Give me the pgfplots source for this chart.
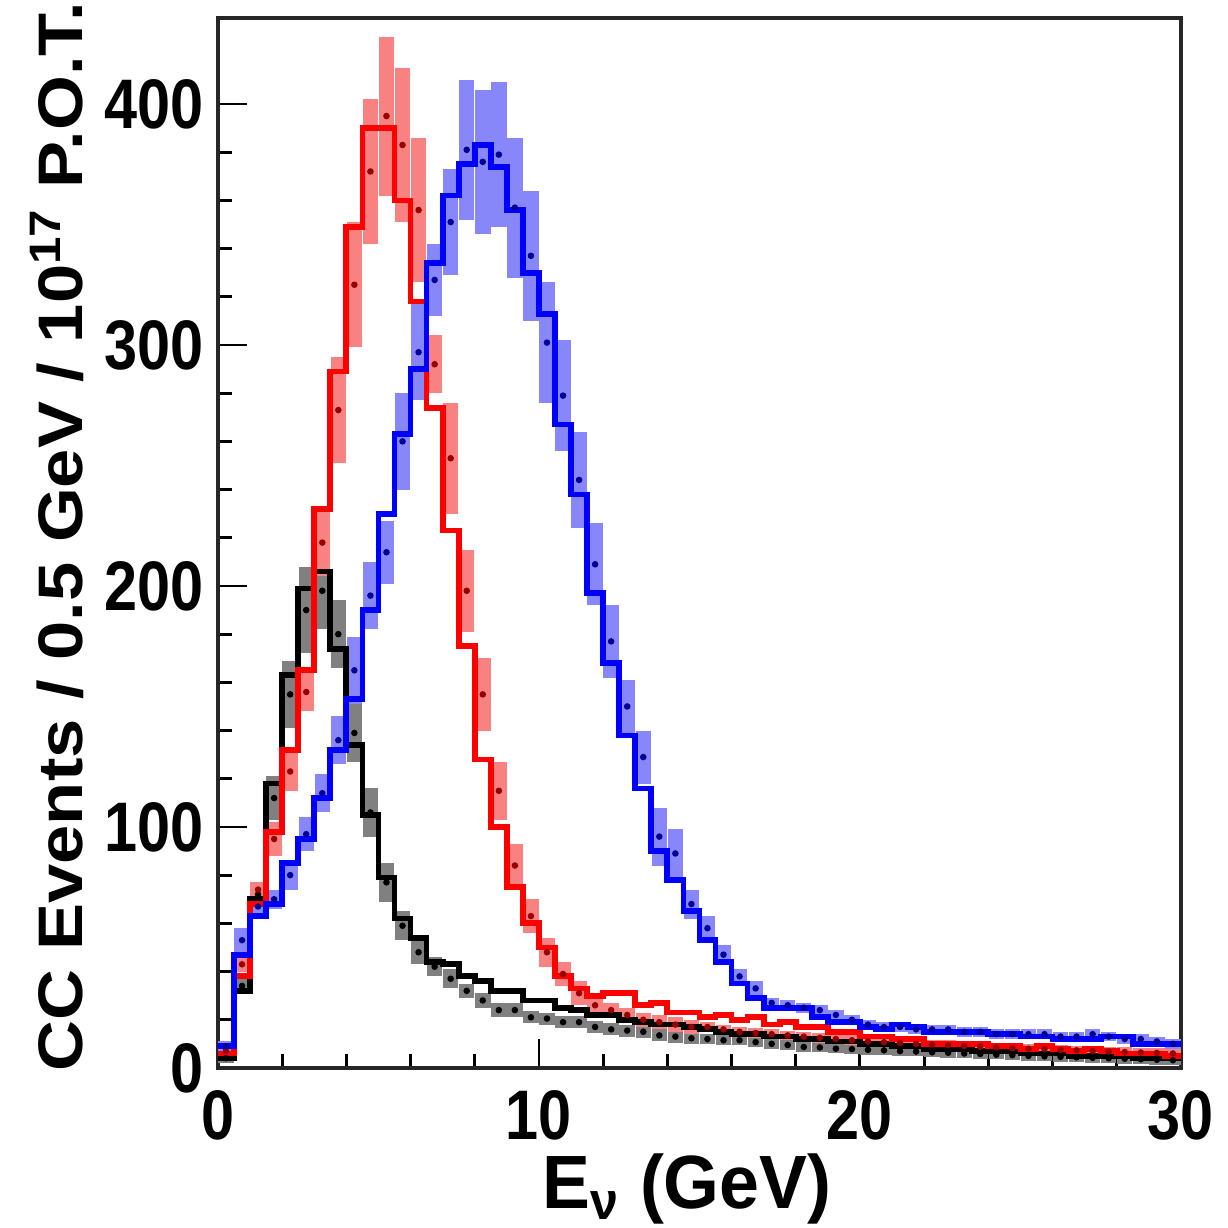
\documentclass[border=0pt]{standalone}
\usepackage{fontspec}
\usepackage{pgfplots}
\usepackage{pgfplotstable}
\pgfplotsset{compat=1.18}
\newfontfamily\rf{Liberation Sans}[FakeStretch=0.847]
\newfontfamily\rfx{Liberation Sans}[FakeStretch=0.95]
\newfontfamily\rfy{Liberation Sans}[FakeStretch=1.12]
\definecolor{bandblue}{RGB}{135,135,250}
\definecolor{bandred}{RGB}{248,130,130}
\definecolor{bandgray}{RGB}{128,128,128}

\pgfplotstableread{
xl xc k r b kc ke rc re bc be
0 0.25 4 6 9 4 2 7 2 9 2
0.5 0.75 32 38 47 34 3 43 3 53 5
1 1.25 70 68 63 72 4 74 3 67 4
1.5 1.75 118 98 68 112 9 95 7 70 4
2 2.25 163 132 85 155 14 123 8 80 6
2.5 2.75 199 165 95 190 18 156 8 97 7
3 3.25 206 232 112 198 16 218 14 114 8
3.5 3.75 174 289 132 180 14 273 22 136 10
4 4.25 134 349 153 139 12 325 26 165 14
4.5 4.75 105 390 190 106 10 372 30 196 14
5 5.25 79 390 230 77 8 395 33 214 13
5.5 5.75 62 360 263 59 6 383 32 260 20
6 6.25 54 318 290 48 5 356 30 297 20
6.5 6.75 44 274 334 42 4 292 12 327 15
7 7.25 43 223 362 37 4 253 23 351 22
7.5 7.75 38 175 375 32 3 198 17 381 29
8 8.25 36 128 383 28 3 155 15 376 30
8.5 8.75 32 100 374 24 3 115 12 379 30
9 9.25 32 75 356 24 3 84 9 357 29
9.5 9.75 28 60 330 21 2.5 63 7 337 27
10 10.25 28 50 313 20.5 2.5 48 6 301 25
10.5 10.75 25 38 267 19 2.5 39 5 279 23
11 11.25 24 33 238 19 2.5 31 5 244 20
11.5 11.75 22 30 197 17 2.5 26 4 209 17
12 12.25 22 31 168 16 2.5 24 3 177 15
12.5 12.75 20 31 138 15.5 2.5 22 3 150 11
13 13.25 19 26 116 15 2.5 20 3 129 11
13.5 13.75 18 27 90 13.5 2.5 19 3 96 12
14 14.25 18 23 78 13 2.5 18 3 89 10
14.5 14.75 17 23 65 12.3 2.5 17 3 68 6
15 15.25 16 21 53 12 2 17 2 58 5
15.5 15.75 15 22 44 11.5 2 16 2 47 4
16 16.25 14 20 35 11.5 2 15 2 38 3
16.5 16.75 14 21 29 10.7 2 14.5 2 33 3
17 17.25 13 18 25 10 2 14 2 27 2
17.5 17.75 13 19 25 9.5 2 13.5 2 26 2
18 18.25 12 17 25 8.7 2 13 2 25 2
18.5 18.75 12 17 21 8.5 2 12.5 2 24 2
19 19.25 11 15 19 8 2 12 2 22 2
19.5 19.75 11 15 19 7.8 2 11.5 2 20 2
20 20.25 10 13 17 7.5 2 11 2 18 2
20.5 20.75 10 13 16 7.3 2 10.7 2 17 2
21 21.25 9 12 18 7 2 10.4 2 17 2
21.5 21.75 9 12 17 6.8 2 10 2 16 2
22 22.25 8 10 15 6.5 2 9.7 2 16 2
22.5 22.75 8 10 15 6.3 2 9.4 2 16 2
23 23.25 8 10 15 6 2 9.1 2 15 2
23.5 23.75 7 10 15 5.8 2 8.8 2 15 2
24 24.25 7 9 14 5.5 2 8.5 2 14 2
24.5 24.75 7 9 14 5.3 2 8.2 2 14 2
25 25.25 6 8 13 5 2 8 2 14 2
25.5 25.75 6 9 13 4.8 2 7.8 2 14 2
26 26.25 6 8 12 4.6 2 7.5 2 13 2
26.5 26.75 5 7 12 4.4 2 7.3 2 13 2
27 27.25 5 8 12 4.2 2 7 2 14 2
27.5 27.75 5 7 13 4 2 6.8 2 13 2
28 28.25 5 6 13 3.8 2 6.6 2 12 2
28.5 28.75 4 6 10 3.6 2 6.4 2 12 2
29 29.25 4 6 10 3.4 2 6.2 2 11 2
29.5 29.75 4 5 10 3.2 2 6 2 10 2
30 30.25 4 5 10 3.2 2 6 2 10 2
}\data

\begin{document}
\begin{tikzpicture}
\begin{axis}[
  scale only axis, width=9.41cm, height=10.26cm,
  xmin=0, xmax=30, ymin=0, ymax=435.7,
  axis line style={line width=0.9pt, black!85},
  xtick={0,10,20,30}, ytick={0,100,200,300,400},
  minor x tick num=4, minor y tick num=4,
  tick align=inside, tick pos=left,
  major tick length=0.28cm, minor tick length=0.14cm,
  every tick/.style={line width=0.8pt, black},
  /pgf/number format/assume math mode=true,
  tick label style={font=\rf\bfseries\fontsize{19.5}{20}\selectfont},
  yticklabel style={inner sep=0pt, anchor=east, xshift=-0.13cm},
  xticklabel style={inner sep=0pt, anchor=north, yshift=-0.21cm},
  xlabel={E\textsubscript{ν} (GeV)},
  xlabel style={font=\rfx\bfseries\fontsize{21}{22}\selectfont, at={(axis description cs:0.487,-0.081)}, anchor=north, inner sep=0pt},
  ylabel={CC Events / 0.5 GeV / 10\textsuperscript{17} P.O.T.},
  ylabel style={font=\rfy\bfseries\fontsize{17.5}{18}\selectfont, at={(axis description cs:-0.167,0.506)}, anchor=center, inner sep=0pt},
]
% bands
\addplot[only marks, mark=*, mark size=0.7pt, black, restrict x to domain=0:30,
  error bars/.cd, y dir=both, y explicit, error mark=none,
  error bar style={line width=4.3pt, bandgray}]
  table[x=xc, y=kc, y error=ke] {\data};
\addplot[only marks, mark=*, mark size=0.7pt, red!60!black, restrict x to domain=0:30,
  error bars/.cd, y dir=both, y explicit, error mark=none,
  error bar style={line width=4.3pt, bandred}]
  table[x=xc, y=rc, y error=re] {\data};
\addplot[only marks, mark=*, mark size=0.7pt, blue!60!black, restrict x to domain=0:30,
  error bars/.cd, y dir=both, y explicit, error mark=none,
  error bar style={line width=4.3pt, bandblue}]
  table[x=xc, y=bc, y error=be] {\data};
% lines
\addplot[const plot, black, line width=1.6pt] table[x=xl, y=k] {\data};
\addplot[const plot, red, line width=1.6pt] table[x=xl, y=r] {\data};
\addplot[const plot, blue, line width=1.6pt] table[x=xl, y=b] {\data};
\end{axis}
\pgfresetboundingbox
\path[use as bounding box] (-2.130cm,-1.5635cm) rectangle (9.870cm,10.436cm);
\end{tikzpicture}
\end{document}
